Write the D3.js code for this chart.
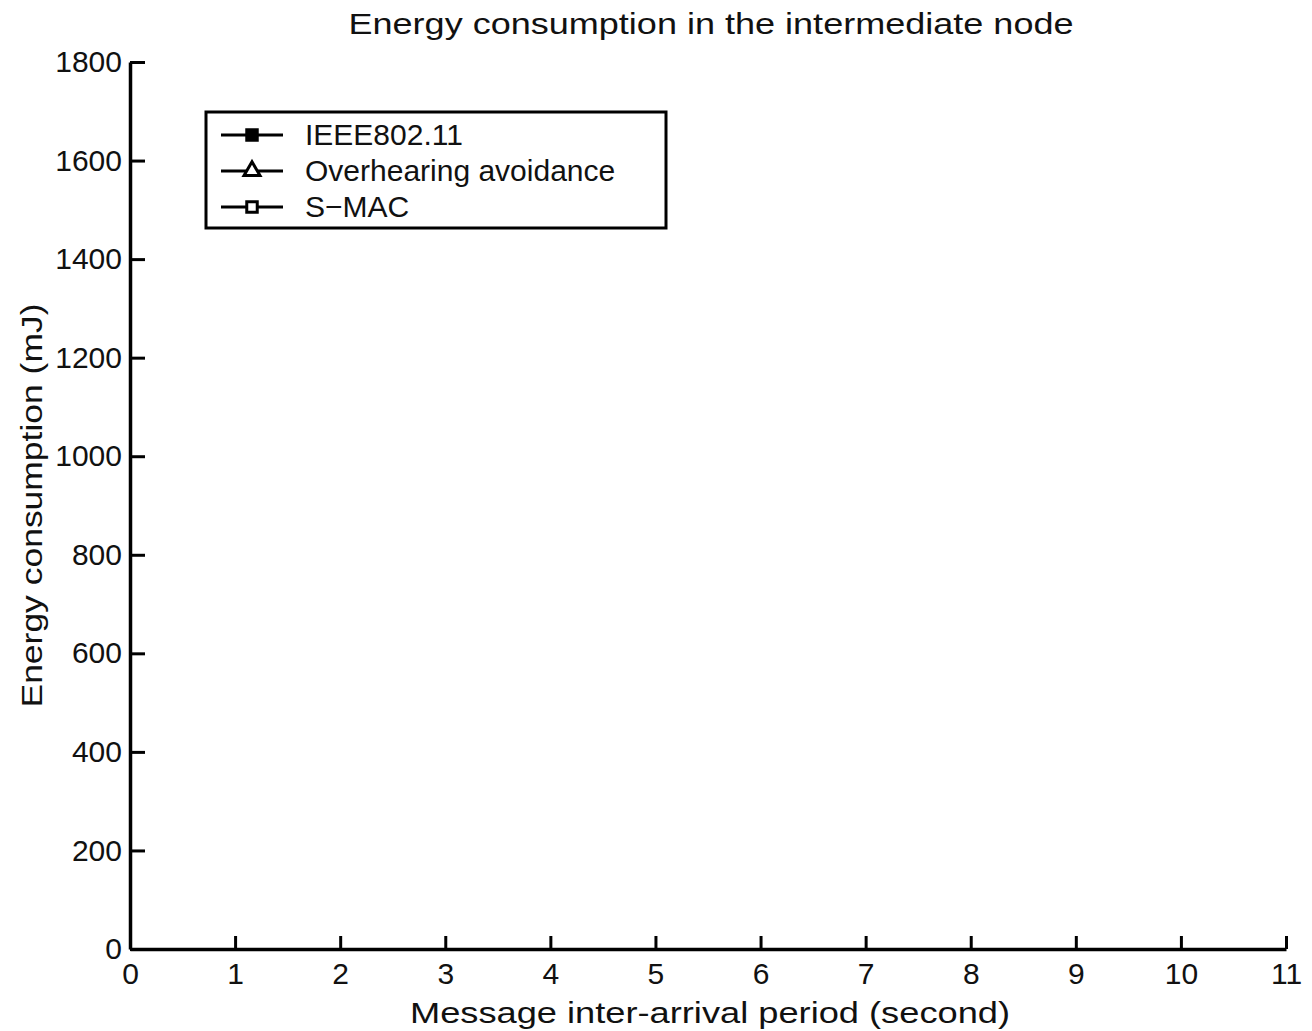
<!DOCTYPE html>
<html>
<head>
<meta charset="utf-8">
<script src="https://cdn.jsdelivr.net/npm/d3@7"></script>
<style>
  body { margin: 0; background: #fff; }
  text { font-family: "Liberation Sans", Arial, sans-serif; fill: #111; }
</style>
</head>
<body>
<div id="chart"></div>
<script>
// chart values
let titleText = "Energy consumption in the intermediate node";
let xLabel = "Message inter-arrival period (second)";
let yLabel = "Energy consumption (mJ)";
let xTicks = [0, 1, 2, 3, 4, 5, 6, 7, 8, 9, 10, 11];
let yTicks = [0, 200, 400, 600, 800, 1000, 1200, 1400, 1600, 1800];
let seriesNames = ["IEEE802.11", "Overhearing avoidance", "S\u2212MAC"];
let seriesMarkers = ["filledSquare", "triangle", "square"];
// no points are drawn in the plot area of the reference
let ieeeValues = [];
let overhearingValues = [];
let smacValues = [];

let W = 1312, H = 1031;
let margin = {top: 62, right: 26, bottom: 82, left: 130};
let width = W - margin.left - margin.right;
let height = H - margin.top - margin.bottom;

let svg = d3.select("#chart").append("svg")
    .attr("width", W)
    .attr("height", H);

let g = svg.append("g")
    .attr("transform", "translate(" + margin.left + "," + margin.top + ")");

let x = d3.scaleLinear().domain([0, 11]).range([0, width]);
let y = d3.scaleLinear().domain([0, 1800]).range([height, 0]);

// x axis, ticks pointing inward
let xAxis = g.append("g")
    .attr("transform", "translate(0," + height + ")")
    .call(d3.axisBottom(x).tickValues(xTicks).tickFormat(d3.format("d"))
        .tickSizeInner(-13).tickSizeOuter(0).tickPadding(14));

// y axis
let yAxis = g.append("g")
    .call(d3.axisLeft(y).tickValues(yTicks).tickFormat(d3.format("d"))
        .tickSizeInner(-15).tickSizeOuter(0).tickPadding(8));

[xAxis, yAxis].forEach(function(ax) {
    ax.select(".domain").attr("stroke", "#000").attr("stroke-width", 3.5);
    ax.selectAll(".tick line").attr("stroke", "#000").attr("stroke-width", 3);
    ax.selectAll(".tick text")
        .attr("font-size", 30)
        .attr("font-family", "Liberation Sans, Arial, sans-serif")
        .attr("fill", "#111");
});

// series lines (empty in the reference)
let seriesData = [ieeeValues, overhearingValues, smacValues];
let line = d3.line()
    .x(function(d) { return x(d[0]); })
    .y(function(d) { return y(d[1]); });

g.selectAll(".series")
    .data(seriesData)
    .enter().append("path")
    .attr("class", "series")
    .attr("d", function(d) { return d.length ? line(d) : null; })
    .attr("fill", "none")
    .attr("stroke", "#000")
    .attr("stroke-width", 2);

// title
svg.append("text")
    .attr("x", 711)
    .attr("y", 34)
    .attr("text-anchor", "middle")
    .attr("font-size", 29)
    .attr("textLength", 725)
    .attr("lengthAdjust", "spacingAndGlyphs")
    .text(titleText);

// axis titles
svg.append("text")
    .attr("x", margin.left + width / 2 + 2)
    .attr("y", 1023)
    .attr("text-anchor", "middle")
    .attr("font-size", 30)
    .attr("textLength", 600)
    .attr("lengthAdjust", "spacingAndGlyphs")
    .text(xLabel);

svg.append("text")
    .attr("transform", "translate(42," + (margin.top + height / 2) + ") rotate(-90)")
    .attr("text-anchor", "middle")
    .attr("font-size", 30)
    .attr("textLength", 404)
    .attr("lengthAdjust", "spacingAndGlyphs")
    .text(yLabel);

// legend
let legend = svg.append("g").attr("transform", "translate(206,112)");
legend.append("rect")
    .attr("width", 460)
    .attr("height", 116)
    .attr("fill", "#fff")
    .attr("stroke", "#000")
    .attr("stroke-width", 3);

let rows = legend.selectAll(".row")
    .data(seriesNames)
    .enter().append("g")
    .attr("class", "row")
    .attr("transform", function(d, i) { return "translate(0," + (23 + i * 36) + ")"; });

rows.append("line")
    .attr("x1", 15).attr("x2", 77)
    .attr("stroke", "#000")
    .attr("stroke-width", 3);

rows.append("path")
    .attr("transform", "translate(46,0)")
    .attr("d", function(d, i) {
        let m = seriesMarkers[i];
        let type = m === "triangle" ? d3.symbolTriangle : d3.symbolSquare;
        return d3.symbol().type(type).size(m === "triangle" ? 110 : 110)();
    })
    .attr("fill", function(d, i) { return seriesMarkers[i] === "filledSquare" ? "#000" : "#fff"; })
    .attr("stroke", "#000")
    .attr("stroke-width", 3);

rows.append("text")
    .attr("x", 99)
    .attr("y", 10)
    .attr("font-size", 30)
    .text(function(d) { return d; });
</script>
</body>
</html>
